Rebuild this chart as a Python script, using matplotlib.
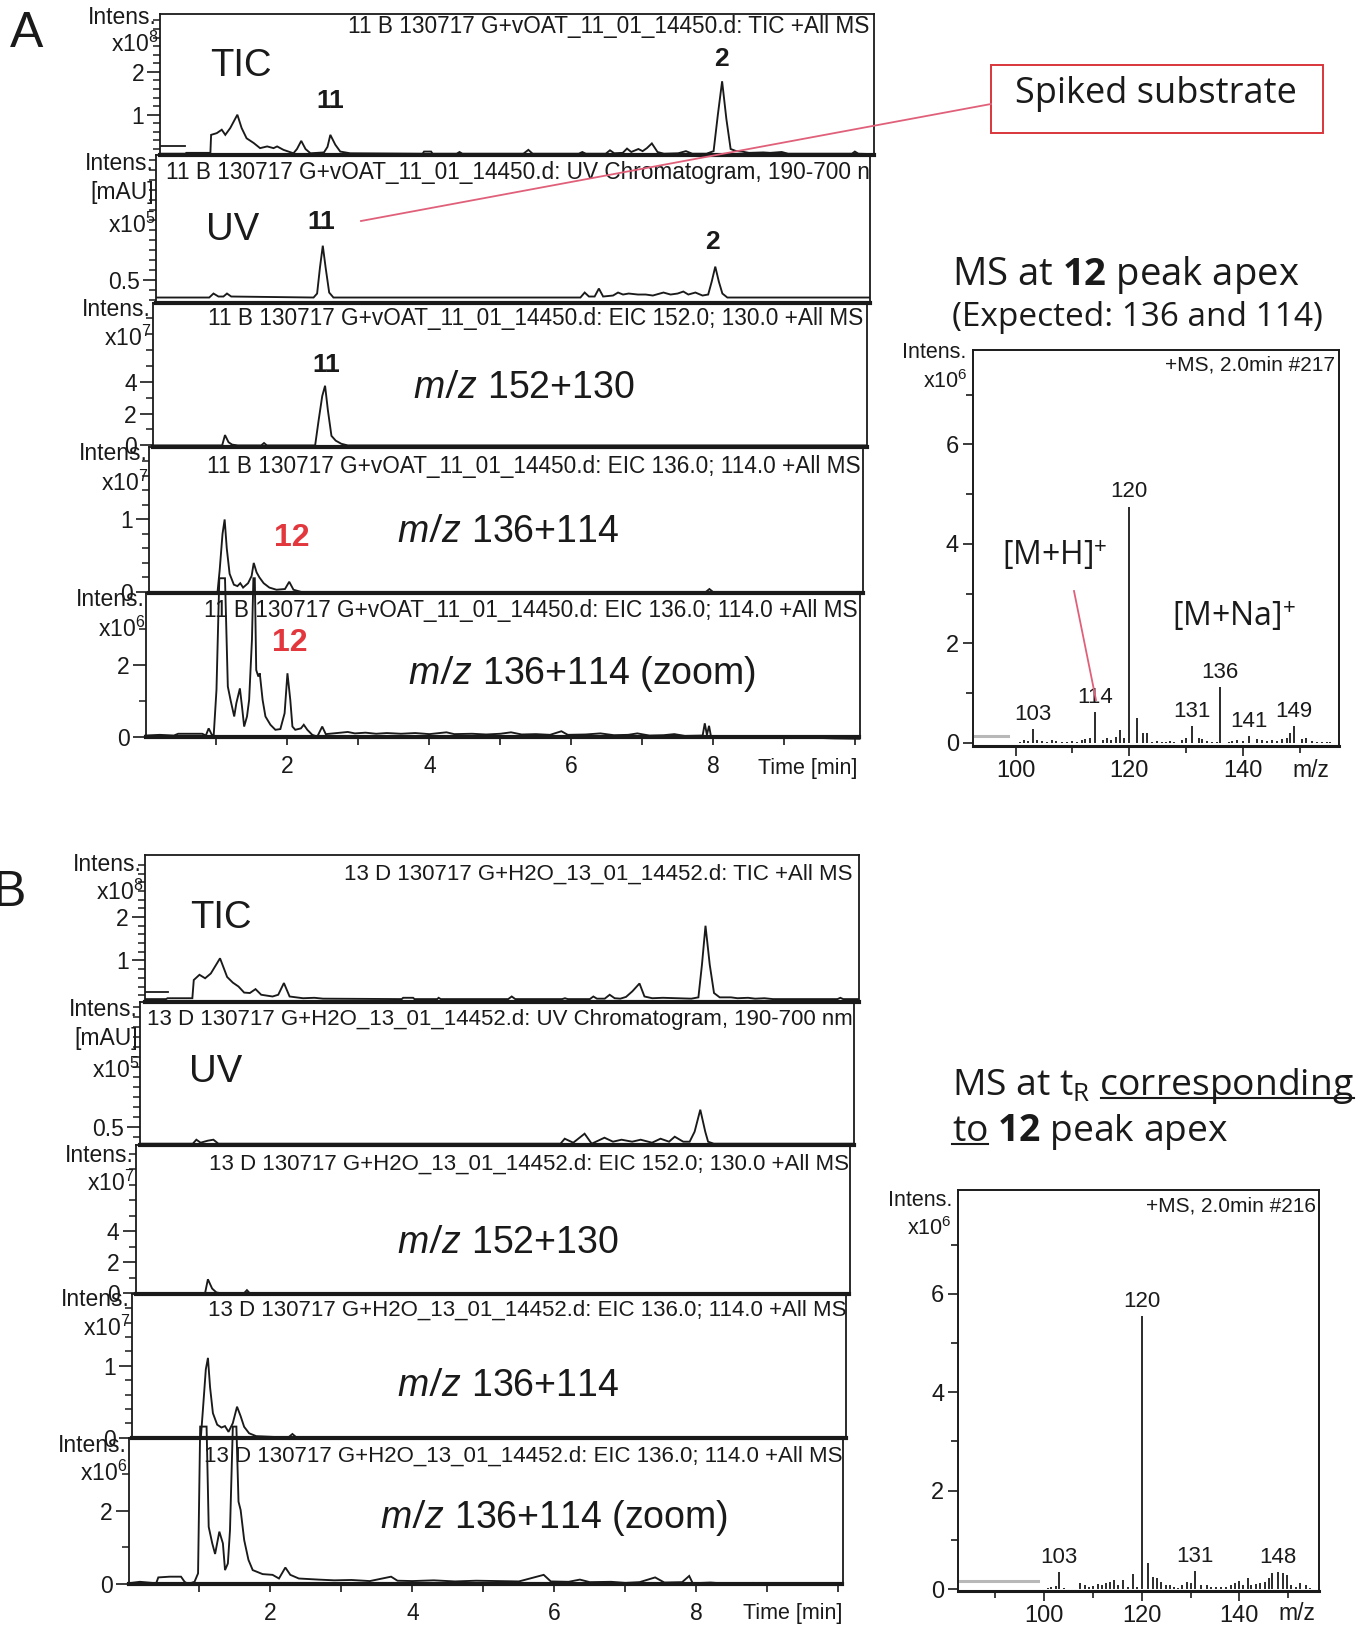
import numpy as np
import matplotlib
matplotlib.use("Agg")
import matplotlib.pyplot as plt
from matplotlib.lines import Line2D
from matplotlib.patches import Rectangle

plt.rcParams['font.family'] = ['Liberation Sans', 'DejaVu Sans']
plt.rcParams['mathtext.fontset'] = 'custom'
plt.rcParams['mathtext.rm'] = 'Open Sans'
plt.rcParams['mathtext.bf'] = 'Open Sans:bold'
plt.rcParams['mathtext.it'] = 'Liberation Sans:italic'

# ---- chromatogram traces, (time [min], intensity in the panel's unit) ----
# run 11 B (G+vOAT)
a_tic = [(0.00, 0.09), (0.36, 0.09), (0.37, 0.11), (0.71, 0.11), (0.72, 0.53), (0.80, 0.57), (0.87, 0.65),
         (0.92, 0.53), (0.99, 0.69), (1.09, 1.00), (1.15, 0.69), (1.22, 0.45), (1.32, 0.34), (1.41, 0.22),
         (1.51, 0.26), (1.60, 0.22), (1.65, 0.26), (1.74, 0.18), (1.81, 0.14), (1.88, 0.10), (1.93, 0.20),
         (1.99, 0.39), (2.05, 0.20), (2.12, 0.10), (2.31, 0.12), (2.36, 0.25), (2.40, 0.53), (2.47, 0.30),
         (2.54, 0.14), (2.68, 0.10), (3.70, 0.09), (3.72, 0.14), (3.82, 0.14), (3.84, 0.09), (4.18, 0.09),
         (4.22, 0.13), (4.26, 0.09), (5.12, 0.09), (5.19, 0.18), (5.25, 0.09), (5.90, 0.09), (5.95, 0.13),
         (6.00, 0.09), (6.28, 0.09), (6.34, 0.17), (6.40, 0.10), (6.52, 0.11), (6.58, 0.21), (6.64, 0.13),
         (6.74, 0.20), (6.80, 0.15), (6.86, 0.22), (6.93, 0.33), (7.01, 0.13), (7.10, 0.09), (7.30, 0.10),
         (7.41, 0.15), (7.50, 0.09), (7.70, 0.09), (7.80, 0.15), (7.86, 1.00), (7.92, 1.78), (7.98, 0.90),
         (8.04, 0.20), (8.12, 0.15), (8.20, 0.14), (8.30, 0.11), (8.50, 0.12), (8.60, 0.11), (8.76, 0.13),
         (8.85, 0.09), (9.75, 0.09), (9.79, 0.14), (9.84, 0.09), (10.06, 0.08)]
a_uv = [(0.00, 0.32), (0.75, 0.32), (0.81, 0.36), (0.88, 0.33), (0.95, 0.33), (1.00, 0.36), (1.06, 0.33),
        (2.22, 0.32), (2.27, 0.36), (2.31, 0.62), (2.35, 0.84), (2.39, 0.62), (2.44, 0.37), (2.50, 0.32),
        (5.98, 0.32), (6.04, 0.37), (6.10, 0.33), (6.18, 0.33), (6.24, 0.41), (6.30, 0.33), (6.44, 0.34),
        (6.51, 0.37), (6.58, 0.35), (6.66, 0.36), (6.79, 0.35), (6.90, 0.35), (7.00, 0.34), (7.15, 0.37),
        (7.25, 0.35), (7.35, 0.36), (7.43, 0.38), (7.50, 0.35), (7.60, 0.37), (7.70, 0.34), (7.78, 0.35),
        (7.83, 0.48), (7.88, 0.63), (7.93, 0.48), (7.98, 0.36), (8.05, 0.32), (10.06, 0.32)]
a_eic152 = [(0.00, 0.0), (0.98, 0.0), (1.02, 0.65), (1.07, 0.20), (1.12, 0.05), (1.20, 0.0), (1.53, 0.0),
            (1.57, 0.15), (1.61, 0.0), (2.29, 0.0), (2.34, 1.60), (2.39, 3.10), (2.43, 3.75), (2.47, 2.20),
            (2.52, 0.60), (2.58, 0.30), (2.66, 0.10), (2.75, 0.0), (10.06, 0.0)]
a_eic136 = [(0.00, 0.0), (0.97, 0.0), (1.00, 0.30), (1.04, 0.80), (1.07, 1.00), (1.10, 0.60), (1.14, 0.25),
            (1.20, 0.10), (1.25, 0.08), (1.29, 0.12), (1.33, 0.06), (1.40, 0.12), (1.45, 0.22), (1.48, 0.40),
            (1.52, 0.27), (1.56, 0.20), (1.62, 0.12), (1.70, 0.06), (1.80, 0.03), (1.92, 0.04), (1.98, 0.14),
            (2.04, 0.03), (2.15, 0.0), (7.85, 0.0), (7.90, 0.04), (7.95, 0.0), (10.06, 0.0)]
a_zoom = [(0.00, 0.03), (0.20, 0.05), (0.40, 0.03), (0.46, 0.08), (0.80, 0.08), (0.85, 0.03), (0.89, 0.23),
          (0.93, 0.07), (0.96, 0.00), (1.00, 1.30), (1.04, 4.40), (1.12, 4.40), (1.16, 1.39), (1.20, 1.00),
          (1.25, 0.56), (1.28, 0.93), (1.33, 1.34), (1.36, 0.83), (1.39, 0.28), (1.43, 0.56), (1.46, 1.02),
          (1.50, 2.70), (1.52, 4.40), (1.54, 4.40), (1.56, 1.85), (1.59, 1.67), (1.61, 1.76), (1.65, 1.02),
          (1.69, 0.56), (1.76, 0.33), (1.83, 0.19), (1.90, 0.21), (1.96, 0.65), (2.00, 1.76), (2.04, 1.02),
          (2.07, 0.28), (2.11, 0.19), (2.19, 0.23), (2.23, 0.33), (2.28, 0.19), (2.35, 0.05), (2.42, 0.00),
          (2.49, 0.28), (2.54, 0.07), (2.75, 0.11), (2.85, 0.13), (2.95, 0.09), (3.10, 0.11), (3.25, 0.08),
          (3.40, 0.10), (3.60, 0.08), (3.80, 0.10), (4.00, 0.07), (4.24, 0.12), (4.35, 0.07), (4.60, 0.08),
          (4.80, 0.06), (5.00, 0.08), (5.15, 0.12), (5.30, 0.06), (5.50, 0.07), (5.70, 0.05), (5.86, 0.15),
          (5.95, 0.05), (6.20, 0.06), (6.41, 0.09), (6.60, 0.04), (6.80, 0.05), (6.93, 0.09), (7.10, 0.03),
          (7.30, 0.04), (7.45, 0.07), (7.60, 0.02), (7.85, 0.03), (7.88, 0.37), (7.91, 0.05), (7.94, 0.30),
          (7.97, -0.02), (8.20, 0.00), (8.50, -0.02), (8.80, -0.01), (9.10, -0.04), (9.40, -0.03),
          (9.70, -0.05), (10.06, -0.06)]

# run 13 D (G+H2O)
b_tic = [(0.00, 0.11), (0.30, 0.11), (0.32, 0.13), (0.67, 0.13), (0.69, 0.55), (0.77, 0.67), (0.85, 0.59),
         (0.93, 0.70), (1.06, 1.05), (1.16, 0.62), (1.24, 0.49), (1.32, 0.40), (1.40, 0.26), (1.48, 0.25),
         (1.56, 0.34), (1.64, 0.21), (1.80, 0.17), (1.88, 0.21), (1.96, 0.48), (2.04, 0.17), (2.23, 0.13),
         (2.39, 0.14), (2.51, 0.12), (3.62, 0.11), (3.64, 0.14), (3.78, 0.14), (3.80, 0.11), (4.12, 0.11),
         (4.14, 0.14), (4.17, 0.11), (5.12, 0.11), (5.17, 0.17), (5.22, 0.11), (5.88, 0.11), (5.92, 0.13),
         (5.96, 0.11), (6.27, 0.11), (6.32, 0.17), (6.37, 0.12), (6.48, 0.12), (6.55, 0.21), (6.62, 0.13),
         (6.70, 0.12), (6.78, 0.16), (6.87, 0.29), (6.97, 0.47), (7.04, 0.17), (7.15, 0.13), (7.30, 0.14),
         (7.50, 0.13), (7.70, 0.12), (7.80, 0.15), (7.85, 0.90), (7.90, 1.80), (7.96, 0.90), (8.02, 0.25),
         (8.10, 0.15), (8.26, 0.15), (8.35, 0.13), (8.50, 0.14), (8.60, 0.12), (8.73, 0.13), (8.85, 0.11),
         (9.76, 0.11), (9.80, 0.14), (9.84, 0.11), (10.06, 0.11)]
b_uv = [(0.00, 0.33), (0.74, 0.33), (0.79, 0.37), (0.85, 0.34), (0.95, 0.36), (1.03, 0.37), (1.10, 0.33),
        (5.92, 0.33), (5.98, 0.38), (6.10, 0.34), (6.26, 0.43), (6.36, 0.33), (6.54, 0.39), (6.66, 0.35),
        (6.78, 0.37), (6.93, 0.35), (7.05, 0.37), (7.21, 0.34), (7.33, 0.38), (7.45, 0.35), (7.53, 0.40),
        (7.65, 0.35), (7.74, 0.35), (7.81, 0.45), (7.89, 0.67), (7.96, 0.45), (8.00, 0.35), (8.08, 0.33),
        (10.06, 0.33)]
b_eic152 = [(0.00, 0.0), (0.98, 0.0), (1.02, 0.90), (1.08, 0.30), (1.14, 0.05), (1.20, 0.0), (1.53, 0.0),
            (1.57, 0.20), (1.61, 0.0), (10.06, 0.0)]
b_eic136 = [(0.00, 0.0), (0.97, 0.0), (1.00, 0.40), (1.04, 0.95), (1.07, 1.11), (1.10, 0.70), (1.14, 0.34),
            (1.20, 0.18), (1.26, 0.14), (1.31, 0.16), (1.36, 0.08), (1.42, 0.20), (1.48, 0.43), (1.53, 0.30),
            (1.58, 0.15), (1.65, 0.06), (1.75, 0.02), (2.20, 0.0), (2.26, 0.05), (2.32, 0.0), (10.06, 0.0)]
b_zoom = [(0.00, 0.02), (0.16, 0.06), (0.39, 0.02), (0.42, 0.18), (0.58, 0.20), (0.74, 0.20), (0.79, 0.06),
          (0.84, 0.00), (0.93, 0.06), (0.98, 0.29), (1.01, 4.30), (1.10, 4.30), (1.13, 1.56), (1.18, 1.11),
          (1.22, 0.82), (1.28, 1.43), (1.33, 1.11), (1.36, 0.38), (1.40, 0.56), (1.43, 1.47), (1.47, 4.30),
          (1.52, 4.30), (1.55, 2.25), (1.58, 2.02), (1.63, 1.20), (1.69, 0.66), (1.75, 0.38), (1.89, 0.27),
          (2.03, 0.25), (2.12, 0.15), (2.21, 0.45), (2.28, 0.25), (2.40, 0.15), (2.68, 0.12), (2.90, 0.10),
          (3.14, 0.11), (3.40, 0.08), (3.70, 0.20), (3.79, 0.09), (4.00, 0.08), (4.30, 0.10), (4.60, 0.07),
          (4.90, 0.09), (5.20, 0.08), (5.50, 0.07), (5.85, 0.25), (5.95, 0.07), (6.20, 0.06), (6.36, 0.12),
          (6.50, 0.05), (6.80, 0.06), (7.00, 0.03), (7.20, 0.05), (7.42, 0.18), (7.55, 0.04), (7.80, 0.05),
          (7.90, 0.22), (7.95, 0.02), (8.20, 0.04), (8.50, 0.00), (8.80, 0.03), (9.10, -0.01), (9.40, 0.01),
          (9.70, -0.02), (10.06, -0.02)]

# ---- mass spectra at 2.0 min, (m/z, intensity x1e6) ----
ms_a = [(100.8, 0.02), (101.5, 0.06), (102.2, 0.03), (103, 0.27), (103.8, 0.05), (104.6, 0.03), (105.5, 0.02),
        (106.4, 0.05), (107.1, 0.03), (108.1, 0.02), (109.0, 0.01), (109.9, 0.03), (110.8, 0.02), (111.6, 0.05),
        (112.2, 0.07), (113.0, 0.09), (114, 0.62), (115.3, 0.05), (116.0, 0.09), (116.7, 0.05), (117.6, 0.12),
        (118.4, 0.26), (119.0, 0.09), (120, 4.75), (121.3, 0.50), (122.4, 0.19), (123.2, 0.20), (124.0, 0.02),
        (124.8, 0.03), (125.7, 0.02), (126.5, 0.01), (127.2, 0.03), (127.9, 0.02), (129.2, 0.05), (130.0, 0.09),
        (131, 0.33), (132.2, 0.10), (132.8, 0.07), (133.6, 0.03), (134.5, 0.02), (135.4, 0.01), (136, 1.12),
        (137.5, 0.02), (138.0, 0.03), (138.9, 0.05), (140.0, 0.04), (141, 0.14), (142.5, 0.07), (143.3, 0.05),
        (144.2, 0.03), (145.1, 0.05), (146.0, 0.03), (146.9, 0.07), (147.7, 0.09), (148.2, 0.19), (149, 0.34),
        (150.4, 0.07), (151.1, 0.09), (152.1, 0.03), (153.0, 0.02), (153.9, 0.02), (154.8, 0.01), (155.4, 0.02)]
ms_a_labels = [103, 114, 120, 131, 136, 141, 149]
ms_b = [(100.8, 0.03), (101.5, 0.05), (102.4, 0.06), (103, 0.35), (104.0, 0.03), (104.9, 0.01), (105.8, 0.01),
        (106.6, 0.01), (107.4, 0.12), (108.3, 0.08), (109.2, 0.05), (110.0, 0.06), (111.1, 0.10), (111.9, 0.08),
        (112.7, 0.12), (113.5, 0.15), (114.3, 0.18), (115.2, 0.08), (116.2, 0.18), (117.2, 0.05), (118.3, 0.30),
        (119.1, 0.05), (120, 5.55), (121.3, 0.52), (122.3, 0.25), (123.2, 0.22), (124.0, 0.15), (124.9, 0.08),
        (125.7, 0.08), (126.6, 0.05), (127.4, 0.03), (128.3, 0.08), (129.3, 0.15), (130.0, 0.12), (131, 0.37),
        (132.2, 0.08), (133.3, 0.08), (134.3, 0.05), (135.3, 0.05), (136.3, 0.05), (137.2, 0.05), (138.2, 0.08),
        (139.1, 0.12), (139.9, 0.16), (140.8, 0.08), (141.7, 0.22), (142.5, 0.08), (143.4, 0.10), (144.2, 0.12),
        (145.2, 0.15), (146.1, 0.23), (146.8, 0.33), (148, 0.35), (148.9, 0.32), (149.8, 0.29), (150.7, 0.08),
        (151.7, 0.05), (152.5, 0.12), (153.6, 0.08), (154.4, 0.03)]
ms_b_labels = [103, 120, 131, 148]

W, H = 1358, 1627
INK = '#1a1a1a'
RED = '#e2373c'
HDR_A = 16.3    # run header above each trace, sample 11 B
HDR_B = 16.0    # run header, sample 13 D
LBL = 16.5      # Intens. / exponent labels
fig = plt.figure(figsize=(W / 100, H / 100), dpi=100)


def rect(l, t, r, b):
    return [l / W, 1 - b / H, (r - l) / W, (b - t) / H]


def ftext(x, y, s, **kw):
    kw.setdefault('color', INK)
    return fig.text(x / W, 1 - y / H, s, **kw)


def chrom(l, t, b, ylim, major, labels, minor, last=False):
    ax = fig.add_axes(rect(l, t, l + 714, b))
    ax.patch.set_alpha(0)
    ax.set_xlim(0, 10.06)
    ax.set_ylim(*ylim)
    for s in ax.spines.values():
        s.set_linewidth(1.3)
        s.set_color(INK)
    ax.spines['bottom'].set_linewidth(3.0)
    ax.set_yticks(major, labels)
    ax.set_yticks(minor, minor=True)
    ax.tick_params(axis='y', which='major', direction='out', length=9.5, width=1.2, labelsize=16.5, pad=2,
                   colors=INK)
    ax.tick_params(axis='y', which='minor', direction='out', length=5, width=1.1, colors=INK)
    if last:
        ax.set_xticks([2, 4, 6, 8], ['2', '4', '6', '8'])
        ax.set_xticks([1, 3, 5, 7, 9, 10], minor=True)
        ax.tick_params(axis='x', which='both', direction='out', length=6, width=1.2, labelsize=16.5, pad=7,
                       colors=INK)
    else:
        ax.set_xticks([])
    return ax


def trace(ax, pts, clip=True):
    d = np.array(pts)
    ax.plot(d[:, 0], d[:, 1], color=INK, lw=1.35, clip_on=clip, solid_joinstyle='miter')


def spectrum(l, t, r, b, xlim, ylim, minor_x, sticks, labels, tag):
    ax = fig.add_axes(rect(l, t, r, b))
    ax.patch.set_alpha(0)
    ax.set_xlim(*xlim)
    ax.set_ylim(*ylim)
    for s in ax.spines.values():
        s.set_linewidth(1.4)
        s.set_color(INK)
    ax.spines['bottom'].set_linewidth(2.2)
    ax.set_xticks([100, 120, 140], ['100', '120', '140'])
    ax.set_xticks(minor_x, minor=True)
    ax.set_yticks([0, 2, 4, 6], ['0', '2', '4', '6'])
    ax.set_yticks([1, 3, 5, 7], minor=True)
    ax.tick_params(which='major', direction='out', length=7, width=1.2, labelsize=17, pad=3, colors=INK)
    ax.tick_params(which='minor', direction='out', length=5, width=1.2, colors=INK)
    d = np.array(sticks)
    ax.vlines(d[:, 0], 0, d[:, 1], colors=INK, lw=1.3)
    lookup = dict(sticks)
    for mz in labels:
        ax.annotate(str(mz), (mz, lookup[mz]), xytext=(0, 3), textcoords='offset points',
                    ha='center', va='bottom', fontsize=16, color=INK)
    ax.text(0.99, 0.985, tag, transform=ax.transAxes, ha='right', va='top', fontsize=15, color=INK)
    return ax


# ================= A =================
ftext(27, 34, 'A', ha='center', va='center', fontsize=36)

ax = chrom(160, 14, 155, (0.06, 3.35), [1, 2], ['1', '2'], np.arange(0.2, 3.3, 0.2))
trace(ax, a_tic)
ax.plot([0, 0.35], [0.26, 0.26], color=INK, lw=1.3)
ftext(869, 27, '11 B 130717 G+vOAT_11_01_14450.d: TIC +All MS', ha='right', va='center', fontsize=HDR_A)
ftext(241, 66, 'TIC', ha='center', va='center', fontsize=27.5)
ftext(330, 101, '11', ha='center', va='center', fontsize=19, fontweight='bold')
ftext(721, 59, '2', ha='center', va='center', fontsize=19, fontweight='bold')
ftext(157, 18, 'Intens.', ha='right', va='center', fontsize=LBL)
ftext(158, 44, 'x10$^{\\mathregular{8}}$', ha='right', va='center', fontsize=LBL)

ax = chrom(156, 155, 303, (0.265, 1.75), [0.5], ['0.5'], np.arange(0.3, 1.75, 0.1))
trace(ax, a_uv)
ax.text(166 / W, 1 - 173 / H, '11 B 130717 G+vOAT_11_01_14450.d: UV Chromatogram, 190-700 nm',
        transform=fig.transFigure, ha='left', va='center', fontsize=HDR_A, color=INK, clip_on=True)
ftext(233, 230, 'UV', ha='center', va='center', fontsize=27.5)
ftext(321, 222, '11', ha='center', va='center', fontsize=19, fontweight='bold')
ftext(712, 242, '2', ha='center', va='center', fontsize=19, fontweight='bold')
ftext(154, 163, 'Intens.', ha='right', va='center', fontsize=LBL)
ftext(154, 193, '[mAU]', ha='right', va='center', fontsize=LBL)
ftext(155, 225, 'x10$^{\\mathregular{5}}$', ha='right', va='center', fontsize=LBL)

ax = chrom(152.6, 303, 447, (-0.1, 8.95), [0, 2, 4], ['0', '2', '4'], [1, 3, 5, 6, 7, 8])
trace(ax, a_eic152)
ftext(863, 319, '11 B 130717 G+vOAT_11_01_14450.d: EIC 152.0; 130.0 +All MS', ha='right', va='center',
      fontsize=HDR_A)
ftext(326, 365, '11', ha='center', va='center', fontsize=19, fontweight='bold')
ftext(413, 388, '$\\mathit{m/z}$ 152+130', ha='left', va='center', fontsize=27)
ftext(151, 309, 'Intens.', ha='right', va='center', fontsize=LBL)
ftext(151, 338, 'x10$^{\\mathregular{7}}$', ha='right', va='center', fontsize=LBL)

ax = chrom(148.7, 447, 593, (-0.015, 2.0), [0, 1], ['0', '1'], np.arange(0.2, 2.0, 0.2))
trace(ax, a_eic136)
ftext(861, 466, '11 B 130717 G+vOAT_11_01_14450.d: EIC 136.0; 114.0 +All MS', ha='right', va='center',
      fontsize=HDR_A)
ftext(292, 538, '12', ha='center', va='center', fontsize=23, fontweight='bold', color=RED)
ftext(397, 532, '$\\mathit{m/z}$ 136+114', ha='left', va='center', fontsize=27)
ftext(148, 454, 'Intens.', ha='right', va='center', fontsize=LBL)
ftext(148, 483, 'x10$^{\\mathregular{7}}$', ha='right', va='center', fontsize=LBL)

ax = chrom(145.5, 593, 737, (-0.01, 3.99), [0, 2], ['0', '2'], [1, 3], last=True)
trace(ax, a_zoom, clip=False)
ftext(858, 611, '11 B 130717 G+vOAT_11_01_14450.d: EIC 136.0; 114.0 +All MS', ha='right', va='center',
      fontsize=HDR_A)
ftext(290, 643, '12', ha='center', va='center', fontsize=23, fontweight='bold', color=RED)
ftext(408, 674, '$\\mathit{m/z}$ 136+114 (zoom)', ha='left', va='center', fontsize=27)
ftext(145, 600, 'Intens.', ha='right', va='center', fontsize=LBL)
ftext(145, 629, 'x10$^{\\mathregular{6}}$', ha='right', va='center', fontsize=LBL)
ftext(857, 768, 'Time [min]', ha='right', va='center', fontsize=15.5)

# spectrum at the apex of peak 12
ax = spectrum(973, 350, 1339, 746, (92.5, 156.9), (-0.064, 7.9), [110, 130, 150], ms_a, ms_a_labels,
              '+MS, 2.0min #217')
ax.plot([92.85, 98.7], [0.14, 0.14], color='#b8b8b8', lw=2.2)
ftext(966, 353, 'Intens.', ha='right', va='center', fontsize=15.5)
ftext(968, 382, 'x10$^{\\mathregular{6}}$', ha='right', va='center', fontsize=15.5)
ftext(1311, 770, 'm/z', ha='center', va='center', fontsize=16.5)

OS = ['Open Sans', 'DejaVu Sans']
ftext(952, 285, 'MS at $\\mathbf{12}$ peak apex', ha='left', va='baseline', fontsize=27.5, family=OS)
ftext(952, 326, '(Expected: 136 and 114)', ha='left', va='baseline', fontsize=24, family=OS)
ftext(1002, 556, '[M+H]$^{+}$', ha='left', va='center', fontsize=23, family=OS)
ftext(1172, 617, '[M+Na]$^{+}$', ha='left', va='center', fontsize=23, family=OS)
fig.add_artist(Line2D([1074 / W, 1096 / W], [1 - 591 / H, 1 - 700 / H], color='#e0607a', lw=1.3))

# spiked substrate call-out
fig.add_artist(Rectangle((991 / W, 1 - 133 / H), 332 / W, 68.5 / H, transform=fig.transFigure,
                         facecolor='white', edgecolor='#d9363c', lw=1.4))
ftext(1156, 94, 'Spiked substrate', ha='center', va='center', fontsize=26, family=OS)
fig.add_artist(Line2D([991 / W, 361 / W], [1 - 104 / H, 1 - 221 / H], color='#e0607a', lw=1.3))

# ================= B =================
ftext(-7, 893, 'B', ha='left', va='center', fontsize=36)

ax = chrom(144.8, 855, 1001.7, (0.05, 3.43), [1, 2], ['1', '2'], np.arange(0.2, 3.4, 0.2))
trace(ax, b_tic)
ax.plot([0, 0.33], [0.28, 0.28], color=INK, lw=1.3)
ftext(853, 874, '13 D 130717 G+H2O_13_01_14452.d: TIC +All MS', ha='right', va='center', fontsize=HDR_B)
ftext(221, 918, 'TIC', ha='center', va='center', fontsize=27.5)
ftext(142, 864, 'Intens.', ha='right', va='center', fontsize=LBL)
ftext(143, 892, 'x10$^{\\mathregular{8}}$', ha='right', va='center', fontsize=LBL)

ax = chrom(140.3, 1001.7, 1145, (0.317, 1.75), [0.5], ['0.5'], np.arange(0.4, 1.75, 0.1))
trace(ax, b_uv)
ax.text(147 / W, 1 - 1019 / H, '13 D 130717 G+H2O_13_01_14452.d: UV Chromatogram, 190-700 nm',
        transform=fig.transFigure, ha='left', va='center', fontsize=HDR_B, color=INK, clip_on=True)
ftext(216, 1072, 'UV', ha='center', va='center', fontsize=27.5)
ftext(138, 1010, 'Intens.', ha='right', va='center', fontsize=LBL)
ftext(138, 1038, '[mAU]', ha='right', va='center', fontsize=LBL)
ftext(139, 1070, 'x10$^{\\mathregular{5}}$', ha='right', va='center', fontsize=LBL)

ax = chrom(135.5, 1145, 1294, (-0.05, 9.57), [0, 2, 4], ['0', '2', '4'], [1, 3, 5, 6, 7, 8, 9])
trace(ax, b_eic152)
ftext(849, 1164, '13 D 130717 G+H2O_13_01_14452.d: EIC 152.0; 130.0 +All MS', ha='right', va='center',
      fontsize=HDR_B)
ftext(397, 1243, '$\\mathit{m/z}$ 152+130', ha='left', va='center', fontsize=27)
ftext(134, 1155, 'Intens.', ha='right', va='center', fontsize=LBL)
ftext(134, 1183, 'x10$^{\\mathregular{7}}$', ha='right', va='center', fontsize=LBL)

ax = chrom(132, 1294, 1438.3, (-0.01, 2.0), [0, 1], ['0', '1'], np.arange(0.2, 2.0, 0.2))
trace(ax, b_eic136)
ftext(846, 1310, '13 D 130717 G+H2O_13_01_14452.d: EIC 136.0; 114.0 +All MS', ha='right', va='center',
      fontsize=HDR_B)
ftext(397, 1386, '$\\mathit{m/z}$ 136+114', ha='left', va='center', fontsize=27)
ftext(130, 1300, 'Intens.', ha='right', va='center', fontsize=LBL)
ftext(130, 1328, 'x10$^{\\mathregular{7}}$', ha='right', va='center', fontsize=LBL)

ax = chrom(128.5, 1438.3, 1584, (0.0, 3.98), [0, 2], ['0', '2'], [1, 3], last=True)
trace(ax, b_zoom, clip=False)
ftext(843, 1456, '13 D 130717 G+H2O_13_01_14452.d: EIC 136.0; 114.0 +All MS', ha='right', va='center',
      fontsize=HDR_B)
ftext(380, 1518, '$\\mathit{m/z}$ 136+114 (zoom)', ha='left', va='center', fontsize=27)
ftext(127, 1445, 'Intens.', ha='right', va='center', fontsize=LBL)
ftext(127, 1473, 'x10$^{\\mathregular{6}}$', ha='right', va='center', fontsize=LBL)
ftext(842, 1613, 'Time [min]', ha='right', va='center', fontsize=15.5)

# spectrum at the matching retention time
ax = spectrum(958.3, 1190, 1319.3, 1591, (82.4, 156.4), (-0.04, 8.11), [90, 110, 130, 150], ms_b,
              ms_b_labels, '+MS, 2.0min #216')
ax.plot([82.4, 98.8], [0.17, 0.17], color='#b8b8b8', lw=2.2)
ftext(952, 1200, 'Intens.', ha='right', va='center', fontsize=15.5)
ftext(952, 1229, 'x10$^{\\mathregular{6}}$', ha='right', va='center', fontsize=15.5)
ftext(1297, 1614, 'm/z', ha='center', va='center', fontsize=16.5)

TS = 26.8
l1 = ftext(952, 1095, 'MS at t$_{\\mathrm{R}}$ corresponding', ha='left', va='baseline', fontsize=TS, family=OS)
l2 = ftext(952, 1141, 'to $\\mathbf{12}$ peak apex', ha='left', va='baseline', fontsize=TS, family=OS)
probe1 = ftext(0, -100, 'corresponding', ha='left', va='baseline', fontsize=TS, family=OS)
probe2 = ftext(0, -100, 'to', ha='left', va='baseline', fontsize=TS, family=OS)
r = fig.canvas.get_renderer()
e1, w1 = l1.get_window_extent(r), probe1.get_window_extent(r).width
w2 = probe2.get_window_extent(r).width
probe1.remove()
probe2.remove()
fig.add_artist(Line2D([(e1.x1 - w1) / W, e1.x1 / W], [1 - 1098 / H] * 2, color=INK, lw=1.5))
fig.add_artist(Line2D([952 / W, (952 + w2) / W], [1 - 1144 / H] * 2, color=INK, lw=1.5))

fig.savefig('out.png', dpi=100)
